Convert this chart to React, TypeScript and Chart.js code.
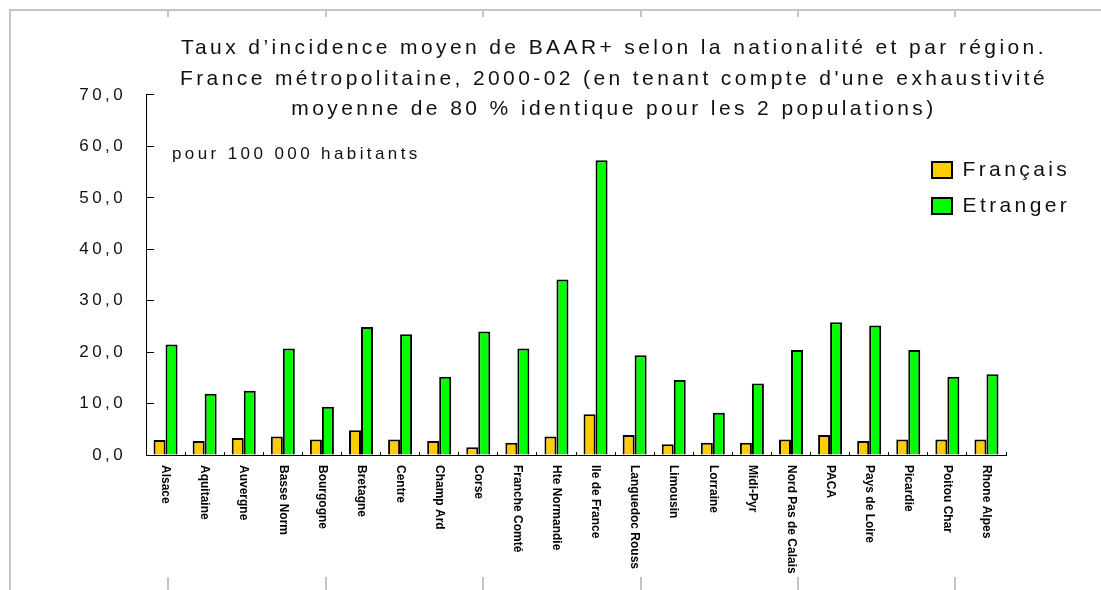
import { useEffect, useRef } from 'react';
import { Chart, registerables } from 'chart.js';

Chart.register(...registerables);

const regions = [
  'Alsace', 'Aquitaine', 'Auvergne', 'Basse Norm', 'Bourgogne', 'Bretagne', 'Centre',
  'Champ Ard', 'Corse', 'Franche Comté', 'Hte Normandie', 'Ile de France',
  'Languedoc Rouss', 'Limousin', 'Lorraine', 'Midi-Pyr', 'Nord Pas de Calais', 'PACA',
  'Pays de Loire', 'Picardie', 'Poitou Char', 'Rhone Alpes',
];
const francais = [2.9, 2.7, 3.3, 3.6, 3.0, 4.8, 3.0, 2.7, 1.5, 2.4, 3.6, 7.9, 3.9, 2.1, 2.4, 2.4, 3.0, 3.9, 2.7, 3.0, 3.0, 3.0];
const etranger = [21.5, 11.9, 12.5, 20.7, 9.4, 24.9, 23.5, 15.2, 24.0, 20.7, 34.1, 57.3, 19.4, 14.6, 8.2, 13.9, 20.4, 25.8, 25.2, 20.4, 15.2, 15.7];
const seriesLabels = ['Français', 'Etranger'];
const seriesColors = ['#FFCC00', '#00FF00'];
const yMin = 0;
const yMax = 70;
const yStep = 10;
const titleLines = [
  'Taux d’incidence moyen de BAAR+ selon la nationalité et par région.',
  "France métropolitaine, 2000-02 (en tenant compte d'une exhaustivité",
  'moyenne de 80 % identique pour les 2 populations)',
];
const unitNote = 'pour 100 000 habitants';
const frameTicksX = [168, 326, 483, 641, 798, 955];

const FAMILY = '"Liberation Sans", Arial, Helvetica, sans-serif';

const decorPlugin = {
  id: 'decor',
  afterLayout(chart: any) {
    const ca = chart.chartArea;
    const lg = chart.legend;
    if (lg) {
      const h = lg.height;
      lg.left = ca.right - 89;
      lg.top = ca.top + 49.5;
      lg.right = chart.width;
      lg.width = lg.right - lg.left;
      lg.bottom = lg.top + h;
    }
    const t = chart.titleBlock;
    if (t) {
      t.left = 614 - 500;
      t.right = 614 + 500;
      t.width = 1000;
    }
  },
  beforeDraw(chart: any) {
    const ctx = chart.ctx;
    ctx.save();
    ctx.strokeStyle = '#c4c4c4';
    ctx.lineWidth = 2;
    ctx.beginPath();
    ctx.moveTo(9, 10);
    ctx.lineTo(chart.width, 10);
    ctx.moveTo(10, 9);
    ctx.lineTo(10, chart.height);
    frameTicksX.forEach((x) => {
      ctx.moveTo(x, 10);
      ctx.lineTo(x, 17);
      ctx.moveTo(x, chart.height - 13);
      ctx.lineTo(x, chart.height);
    });
    ctx.stroke();
    ctx.restore();
    ctx.letterSpacing = '3.4px';
  },
  afterDraw(chart: any) {
    const ctx = chart.ctx;
    const ca = chart.chartArea;
    const xs = chart.scales.x;
    const ys = chart.scales.y;
    ctx.save();
    ctx.fillStyle = '#111';
    ctx.font = `17px ${FAMILY}`;
    ctx.textAlign = 'left';
    ctx.textBaseline = 'alphabetic';
    ctx.fillText(unitNote, ca.left + 26, ys.getPixelForValue(60) + 13);
    ctx.restore();

    ctx.save();
    ctx.letterSpacing = '0px';
    ctx.fillStyle = '#000';
    ctx.font = `bold 12px ${FAMILY}`;
    ctx.textAlign = 'left';
    ctx.textBaseline = 'middle';
    (chart.data.labels as string[]).forEach((lab, i) => {
      const x = xs.getPixelForValue(i);
      ctx.save();
      ctx.translate(x, ca.bottom + 10);
      ctx.rotate(Math.PI / 2);
      ctx.fillText(lab, 0, 0);
      ctx.restore();
    });
    ctx.restore();
  },
};

export default function App() {
  const ref = useRef<HTMLCanvasElement>(null);
  useEffect(() => {
    if (!ref.current) return;
    const chart = new Chart(ref.current, {
      type: 'bar',
      data: {
        labels: regions,
        datasets: [
          {
            label: seriesLabels[0],
            data: francais,
            backgroundColor: seriesColors[0],
            borderColor: '#000',
            borderWidth: 2,
            categoryPercentage: 0.614,
            barPercentage: 1,
          },
          {
            label: seriesLabels[1],
            data: etranger,
            backgroundColor: seriesColors[1],
            borderColor: '#000',
            borderWidth: 2,
            categoryPercentage: 0.614,
            barPercentage: 1,
          },
        ],
      },
      options: {
        responsive: false,
        animation: false,
        layout: { padding: { left: 0, right: 95, top: 0, bottom: 0 } },
        plugins: {
          title: {
            display: true,
            text: titleLines,
            color: '#111',
            font: { family: FAMILY, size: 21, weight: 'normal', lineHeight: 1.452 },
            padding: { top: 33, bottom: -29.5 },
          },
          legend: {
            position: 'chartArea',
            align: 'start',
            labels: {
              boxWidth: 20,
              boxHeight: 16,
              padding: 15,
              color: '#111',
              font: { family: FAMILY, size: 21 },
            },
          },
          tooltip: { enabled: false },
        },
        scales: {
          x: {
            offset: true,
            ticks: { display: false },
            grid: { offset: true, drawOnChartArea: false, drawTicks: true, tickLength: -3, color: '#000', lineWidth: 1 },
            border: { display: true, color: '#000', width: 1 },
            afterFit: (s: any) => { s.height = 135; },
          },
          y: {
            min: yMin,
            max: yMax,
            ticks: {
              stepSize: yStep,
              padding: 28,
              color: '#111',
              font: { family: FAMILY, size: 17 },
              callback: (v: any) => Number(v).toFixed(1).replace('.', ','),
            },
            grid: { drawOnChartArea: false, drawTicks: true, tickLength: -8, color: '#000', lineWidth: 1 },
            border: { display: true, color: '#000', width: 1 },
            afterFit: (s: any) => { s.width = 146; },
          },
        },
      } as any,
      plugins: [decorPlugin],
    });
    return () => chart.destroy();
  }, []);
  return (
    <div style={{ position: 'fixed', left: 0, top: 0, width: 1101, height: 590, background: '#fff' }}>
      <canvas ref={ref} width={1101} height={590} style={{ display: 'block', width: 1101, height: 590 }} />
    </div>
  );
}
